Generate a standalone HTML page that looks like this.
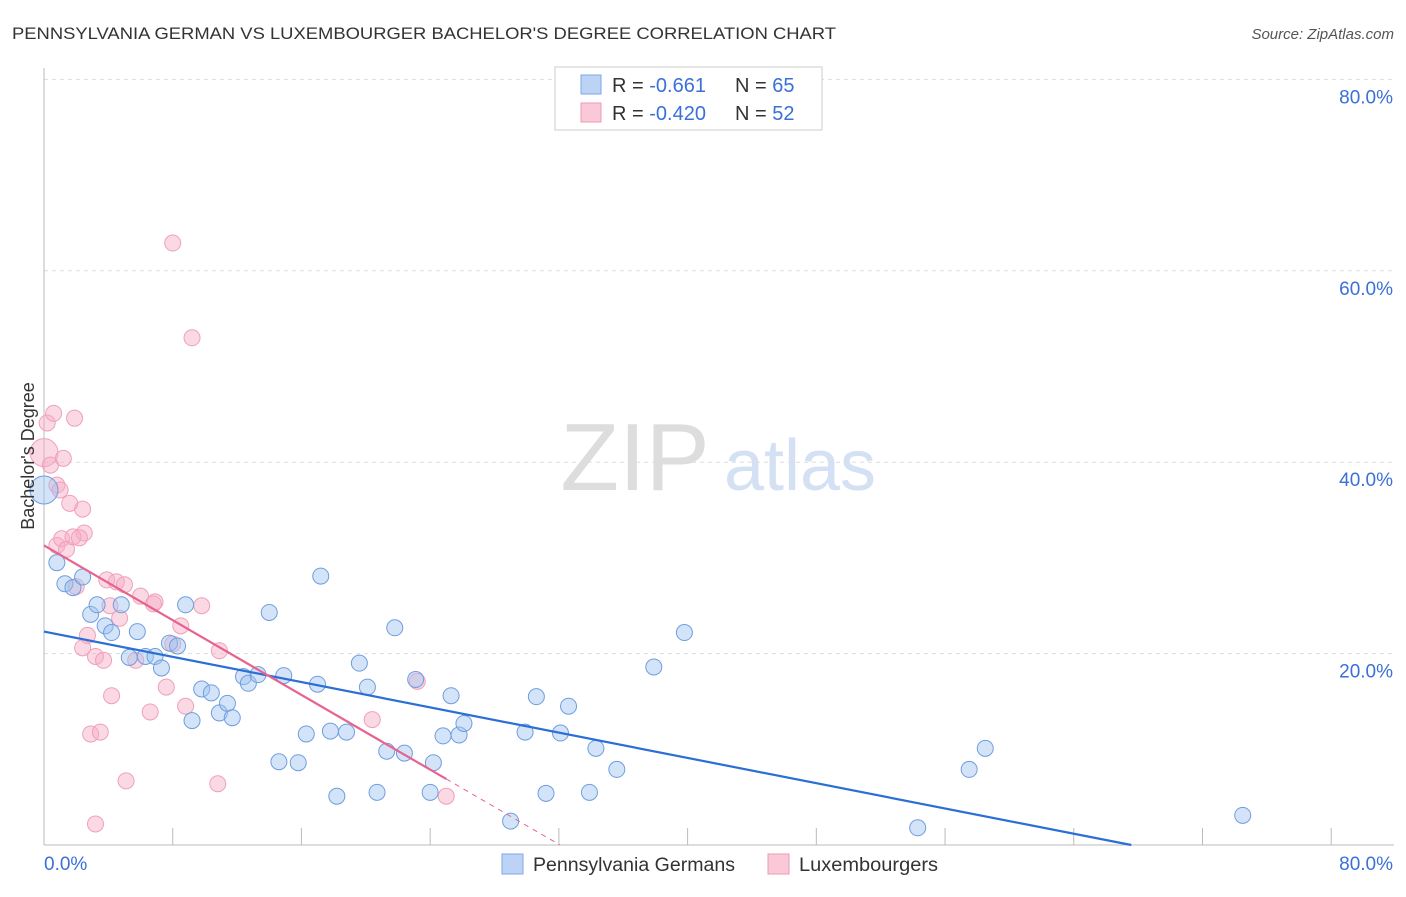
<!DOCTYPE html>
<html><head><meta charset="utf-8"><style>
body{margin:0;background:#fff;font-family:"Liberation Sans",sans-serif;}
svg text{font-family:"Liberation Sans",sans-serif;}
</style></head><body>
<svg id="c" width="1406" height="892" xmlns="http://www.w3.org/2000/svg">
<text x="12" y="39" font-size="17" fill="#333" textLength="824" lengthAdjust="spacingAndGlyphs">PENNSYLVANIA GERMAN VS LUXEMBOURGER BACHELOR'S DEGREE CORRELATION CHART</text>
<text x="1394" y="39" font-size="15" fill="#555" font-style="italic" text-anchor="end">Source: ZipAtlas.com</text>
<text x="635" y="490" font-size="96" fill="#ddd" font-family="Liberation Serif" text-anchor="middle">ZIP</text>
<text x="800" y="490" font-size="72" fill="#d4e0f4" text-anchor="middle">atlas</text>
<g id="grid"></g><g id="marks"></g>
<text x="34" y="456" font-size="18" fill="#333" text-anchor="middle" transform="rotate(-90 34 456)">Bachelor's Degree</text>
<rect x="555" y="67" width="267" height="63" fill="#fff" stroke="#ccc"/>
<rect x="581" y="75" width="20" height="19" fill="#bcd3f5" stroke="#7fa6e4"/>
<rect x="581" y="103" width="20" height="19" fill="#f9c9d8" stroke="#ee9ab6"/>
<text x="612" y="92" font-size="20" fill="#333">R = <tspan fill="#3a70d8"> -0.661</tspan><tspan x="735">N = </tspan><tspan fill="#3a70d8">65</tspan></text>
<text x="612" y="120" font-size="20" fill="#333">R = <tspan fill="#3a70d8">-0.420</tspan><tspan x="735">N = </tspan><tspan fill="#3a70d8">52</tspan></text>
<rect x="502" y="854" width="21" height="20" fill="#bcd3f5" stroke="#7fa6e4"/>
<text x="533" y="871" font-size="19" fill="#333" textLength="202" lengthAdjust="spacingAndGlyphs">Pennsylvania Germans</text>
<rect x="768" y="854" width="21" height="20" fill="#f9c9d8" stroke="#ee9ab6"/>
<text x="799" y="871" font-size="19" fill="#333" textLength="139" lengthAdjust="spacingAndGlyphs">Luxembourgers</text>
</svg>
<script>
const yTicks=[20,40,60,80];
const yTickLabels=["20.0%","40.0%","60.0%","80.0%"];
const xTicks=[0,8,16,24,32,40,48,56,64,72,80];
const blueX=[0,0.8,1.3,1.8,2.4,2.9,3.3,3.8,4.2,4.8,5.8,5.3,6.3,6.9,7.3,7.8,8.3,8.8,9.2,9.8,10.4,10.9,11.4,11.7,12.4,12.7,13.3,14.0,14.6,14.9,15.8,16.3,17.0,17.2,17.8,18.2,18.8,19.6,20.1,20.7,21.3,21.8,22.4,23.1,24.0,24.2,24.8,25.3,25.8,26.1,29.0,29.9,30.6,31.2,32.1,32.6,33.9,34.3,35.6,37.9,39.8,54.3,57.5,58.5,74.5];
const blueY=[37.1,29.5,27.3,26.9,28.0,24.1,25.1,22.9,22.2,25.1,22.3,19.6,19.7,19.7,18.5,21.1,20.8,25.1,13.0,16.3,15.9,13.8,14.8,13.3,17.6,16.9,17.8,24.3,8.7,17.7,8.6,11.6,16.8,28.1,11.9,5.1,11.8,19.0,16.5,5.5,9.8,22.7,9.6,17.3,5.5,8.6,11.4,15.6,11.5,12.7,2.5,11.8,15.5,5.4,11.7,14.5,5.5,10.1,7.9,18.6,22.2,1.8,7.9,10.1,3.1];
const pinkX=[0,0.2,0.6,0.4,0.8,1.0,1.2,1.6,1.9,2.4,2.5,0.8,1.1,1.4,1.8,2.2,2.0,2.7,2.4,3.2,3.7,2.9,3.5,3.2,3.9,4.1,4.5,4.7,5.0,4.2,5.1,5.7,6.0,6.6,6.8,6.9,7.6,8.0,8.5,8.8,9.2,9.8,10.8,10.9,20.4,23.2,25.0,8.0];
const pinkY=[41.0,44.1,45.1,39.7,37.6,37.1,40.4,35.7,44.6,35.1,32.6,31.3,32.0,30.9,32.2,32.1,27.0,21.9,20.6,19.7,19.3,11.6,11.8,2.2,27.7,25.0,27.5,23.7,27.2,15.6,6.7,19.3,26.0,13.9,25.2,25.4,16.5,62.9,22.9,14.5,53.0,25.0,6.4,20.3,13.1,17.1,5.1,21.0];
const blueTrend=[22.3,-0.330];
const pinkTrend=[31.3,-0.976];
const sx=v=>44+v*16.09, sy=v=>845-v*9.57;
const NS="http://www.w3.org/2000/svg";
const mk=(p,t,a)=>{const e=document.createElementNS(NS,t);for(const k in a)e.setAttribute(k,a[k]);document.getElementById(p).appendChild(e);return e;};
yTicks.forEach((v,i)=>{
 const l=mk('grid','line',{x1:44,x2:1394,y1:sy(v),y2:sy(v),stroke:'#ddd','stroke-dasharray':'4,4'});
 
 
 const t=mk('grid','text',{x:1393,y:sy(v)+24,'font-size':19,fill:'#3a70d8','text-anchor':'end'});
 t.textContent=yTickLabels[i];
 
 
});
const ax=mk('grid','line',{x1:44,x2:44,y1:68,y2:845,stroke:'#bbb'});


const bx=mk('grid','line',{x1:44,x2:1394,y1:845,y2:845,stroke:'#bbb'});


xTicks.forEach(v=>{
 const l=mk('grid','line',{x1:sx(v),x2:sx(v),y1:828,y2:845,stroke:'#bbb'});
 
 
});
[[0,'0.0%','start',44],[80,'80.0%','end',1393]].forEach(d=>{
 const t=mk('grid','text',{x:d[3],y:870,'font-size':19,fill:'#3a70d8','text-anchor':d[2]});
 t.textContent=d[1];
 
 
});
pinkX.forEach((x,i)=>{
 const c=mk('marks','circle',{cx:sx(x),cy:sy(pinkY[i]),r:i==0?14:8,fill:'rgba(246,170,196,0.45)',stroke:'#efa0bb','stroke-width':1});
 
 
});
blueX.forEach((x,i)=>{
 const c=mk('marks','circle',{cx:sx(x),cy:sy(blueY[i]),r:i==0?14:8,fill:'rgba(160,195,240,0.45)',stroke:'#6f9de0','stroke-width':1});
 
 
});
const bz=-blueTrend[0]/blueTrend[1];
const bl=mk('marks','line',{x1:sx(0),y1:sy(blueTrend[0]),x2:sx(bz),y2:sy(0),stroke:'#2b6fd6','stroke-width':2.2});


const pe=25, pz=-pinkTrend[0]/pinkTrend[1];
const pl=mk('marks','line',{x1:sx(0),y1:sy(pinkTrend[0]),x2:sx(pe),y2:sy(pinkTrend[0]+pinkTrend[1]*pe),stroke:'#e8628e','stroke-width':2.2});


const pd=mk('marks','line',{x1:sx(pe),y1:sy(pinkTrend[0]+pinkTrend[1]*pe),x2:sx(pz),y2:sy(0),stroke:'#e8628e','stroke-width':1,'stroke-dasharray':'5,5'});


</script>
</body></html>
